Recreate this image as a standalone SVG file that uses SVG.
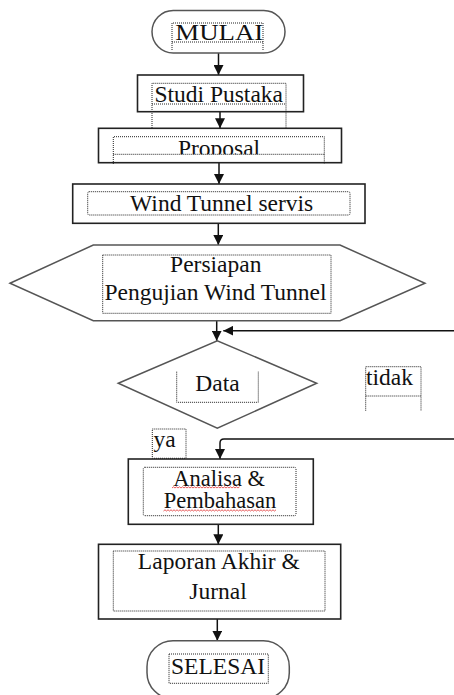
<svg xmlns="http://www.w3.org/2000/svg" width="454" height="695" viewBox="0 0 454 695">
<style>
.shape{fill:#fff;stroke:#222;stroke-width:1.6}
.soft{fill:#fff;stroke:#555;stroke-width:1.5}
.dot{fill:none;stroke:#222;stroke-width:1;stroke-dasharray:1 1}
text{font-family:'Liberation Serif','Times New Roman','DejaVu Serif',serif;font-size:23.5px;fill:#111;text-anchor:middle}
.ts{text-anchor:start}
.conn{fill:none;stroke:#111;stroke-width:1.5}
.sq{fill:none;stroke:#e03030;stroke-width:0.8}
</style>
<defs>
<marker id="ah" viewBox="0 0 10 10" refX="10" refY="5" markerWidth="10" markerHeight="10" markerUnits="userSpaceOnUse" orient="auto">
<path d="M0,0 L10,5 L0,10 Z" fill="#111"/>
</marker>
<clipPath id="cp"><rect x="100" y="137" width="240" height="17.3"/></clipPath>
</defs>
<rect width="454" height="695" fill="#fff"/>

<g id="connectors">
<line class="conn" x1="218.5" y1="53" x2="218.5" y2="75" marker-end="url(#ah)"/>
<line class="conn" x1="220" y1="111.7" x2="220" y2="128.3" marker-end="url(#ah)"/>
<line class="conn" x1="219" y1="162.7" x2="219" y2="184" marker-end="url(#ah)"/>
<line class="conn" x1="218.3" y1="223.3" x2="218.3" y2="245" marker-end="url(#ah)"/>
<line class="conn" x1="216.7" y1="320.7" x2="216.7" y2="340.7" marker-end="url(#ah)"/>
<path class="conn" d="M454,330.7 H223.3" marker-end="url(#ah)"/>
<path class="conn" d="M454,439 H224 Q220,439 220,443 V459" marker-end="url(#ah)"/>
<line class="conn" x1="218.3" y1="524.3" x2="218.3" y2="544.3" marker-end="url(#ah)"/>
<line class="conn" x1="217.3" y1="619" x2="217.3" y2="640.7" marker-end="url(#ah)"/>
</g>

<g id="mulai">
<rect class="soft" x="152" y="10.5" width="133" height="42.5" rx="21.25"/>
<path class="dot" d="M172,50 V23 H263 V50 M172,42 H263"/>
<text font-family="Liberation Serif, serif" x="219.3" y="40" textLength="88" lengthAdjust="spacingAndGlyphs">MULAI</text>
</g>

<g id="studi">
<rect class="shape" x="137.5" y="75" width="166" height="36.7"/>
<path class="dot" d="M152,128 V83.3 H286 V128 M152,104 H286"/>
<text x="218.7" y="101.7">Studi Pustaka</text>
</g>

<g id="proposal">
<rect class="shape" x="98.5" y="128.3" width="243" height="34.4"/>
<path class="dot" d="M113.3,164 V136.7 H324.3 V164 M113.3,154.3 H324.3"/>
<text x="219" y="156" clip-path="url(#cp)">Proposal</text>
</g>

<g id="wind">
<rect class="shape" x="72.7" y="184" width="292.3" height="39.3"/>
<rect class="dot" x="87.7" y="191.7" width="262.3" height="23.3" rx="1.5"/>
<text x="221.7" y="211">Wind Tunnel servis</text>
</g>

<g id="persiapan">
<polygon class="soft" points="10,283.3 93.3,245 340,245 425,283.3 340,320.7 93.3,320.7"/>
<rect class="dot" x="102.7" y="255" width="228.3" height="58.3"/>
<text x="215.8" y="271.7">Persiapan</text>
<text x="215.5" y="300">Pengujian Wind Tunnel</text>
</g>

<g id="data">
<polygon class="soft" points="118.3,383.3 217.3,340.7 316.7,383.3 217.3,428.3"/>
<path class="dot" d="M176.7,371.7 V402.3 H258.3 V371.7"/>
<text x="217.5" y="391">Data</text>
</g>

<g id="tidak">
<path class="dot" d="M365.7,410.7 V366.7 H421 V410.7 M365.7,396 H421"/>
<text class="ts" x="366" y="385">tidak</text>
</g>

<g id="ya">
<rect class="dot" x="152.3" y="429" width="33.7" height="29.3"/>
<text class="ts" x="153.5" y="446.7">ya</text>
</g>

<g id="analisa">
<rect class="shape" x="128.3" y="459" width="185" height="65.3"/>
<rect class="dot" x="143.3" y="467.3" width="152.7" height="48.4" rx="1.5"/>
<text x="219.2" y="485.7" style="font-size:22.5px">Analisa &amp;</text>
<text x="220" y="507.7" style="font-size:22.5px">Pembahasan</text>
<path class="sq" d="M172,488 l1.5,-1.2 l1.5,1.2 l1.5,-1.2 l1.5,1.2 l1.5,-1.2 l1.5,1.2 l1.5,-1.2 l1.5,1.2 l1.5,-1.2 l1.5,1.2 l1.5,-1.2 l1.5,1.2 l1.5,-1.2 l1.5,1.2 l1.5,-1.2 l1.5,1.2 l1.5,-1.2 l1.5,1.2 l1.5,-1.2 l1.5,1.2 l1.5,-1.2 l1.5,1.2 l1.5,-1.2 l1.5,1.2 l1.5,-1.2 l1.5,1.2 l1.5,-1.2 l1.5,1.2 l1.5,-1.2 l1.5,1.2 l1.5,-1.2 l1.5,1.2 l1.5,-1.2 l1.5,1.2 l1.5,-1.2 l1.5,1.2 l1.5,-1.2 l1.5,1.2 l1.5,-1.2 l1.5,1.2 l1.5,-1.2 l1.5,1.2 l1.5,-1.2 l1.5,1.2 l1.5,-1.2"/>
<path class="sq" d="M163.5,511 l1.5,-1.2 l1.5,1.2 l1.5,-1.2 l1.5,1.2 l1.5,-1.2 l1.5,1.2 l1.5,-1.2 l1.5,1.2 l1.5,-1.2 l1.5,1.2 l1.5,-1.2 l1.5,1.2 l1.5,-1.2 l1.5,1.2 l1.5,-1.2 l1.5,1.2 l1.5,-1.2 l1.5,1.2 l1.5,-1.2 l1.5,1.2 l1.5,-1.2 l1.5,1.2 l1.5,-1.2 l1.5,1.2 l1.5,-1.2 l1.5,1.2 l1.5,-1.2 l1.5,1.2 l1.5,-1.2 l1.5,1.2 l1.5,-1.2 l1.5,1.2 l1.5,-1.2 l1.5,1.2 l1.5,-1.2 l1.5,1.2 l1.5,-1.2 l1.5,1.2 l1.5,-1.2 l1.5,1.2 l1.5,-1.2 l1.5,1.2 l1.5,-1.2 l1.5,1.2 l1.5,-1.2 l1.5,1.2 l1.5,-1.2 l1.5,1.2 l1.5,-1.2 l1.5,1.2 l1.5,-1.2 l1.5,1.2 l1.5,-1.2 l1.5,1.2 l1.5,-1.2 l1.5,1.2 l1.5,-1.2 l1.5,1.2 l1.5,-1.2 l1.5,1.2 l1.5,-1.2 l1.5,1.2 l1.5,-1.2 l1.5,1.2 l1.5,-1.2 l1.5,1.2 l1.5,-1.2 l1.5,1.2 l1.5,-1.2 l1.5,1.2 l1.5,-1.2 l1.5,1.2 l1.5,-1.2 l1.5,1.2 l1.5,-1.2"/>
</g>

<g id="laporan">
<rect class="shape" x="98.5" y="544.3" width="242.2" height="74.7"/>
<rect class="dot" x="113.3" y="551" width="211.7" height="60"/>
<text x="218.8" y="569.3">Laporan Akhir &amp;</text>
<text x="218" y="599.3">Jurnal</text>
</g>

<g id="selesai">
<rect class="soft" x="147" y="640.7" width="142.3" height="58" rx="26"/>
<rect class="dot" x="169" y="654" width="99.3" height="29.3"/>
<text x="218" y="674.3">SELESAI</text>
</g>
</svg>
